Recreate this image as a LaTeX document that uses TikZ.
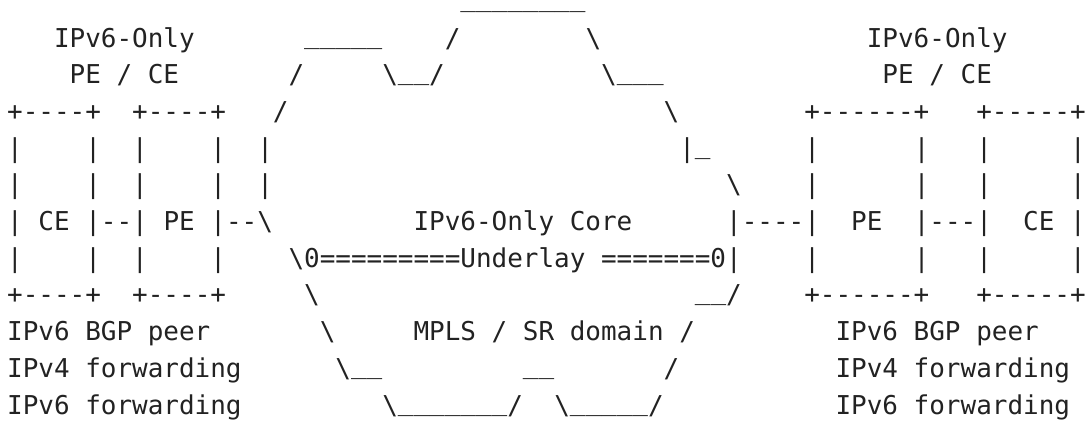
\documentclass[tikz,border=0pt]{standalone}
\usepackage{fontspec}
\setmonofont{DejaVu Sans Mono}
\definecolor{ink}{RGB}{34,34,34}
\newcommand\usc{\raisebox{4pt}{\_}}
\newcommand\bsl{\textbackslash}
\newcommand\seg[4]{\node[asc] (#1) at ({7.2+15.63*#2},{10.3+36.7*#3}) {#4};}
\begin{document}
\begin{tikzpicture}[x=1pt,y=-1pt,
  asc/.style={anchor=base west,inner sep=0pt,outer sep=0pt,text=ink,
    font=\ttfamily\fontsize{25.96pt}{30pt}\selectfont}]
\useasboundingbox (0,0) rectangle (1086,421);
% row 0
\node[asc,text height=0pt] (top) at ({7.2+15.63*29},10.3) {\usc\usc\usc\usc\usc\usc\usc\usc};
% row 1
\seg{ltitA}{3}{1}{IPv6-Only}
\seg{ca1}{19}{1}{\usc\usc\usc\usc\usc}
\seg{cb1}{28}{1}{/}
\seg{cc1}{37}{1}{\bsl}
\seg{rtitA}{55}{1}{IPv6-Only}
% row 2
\seg{ltitB}{4}{2}{PE / CE}
\seg{ca2}{18}{2}{/}
\seg{cb2}{24}{2}{\bsl\usc\usc/}
\seg{cc2}{38}{2}{\bsl\usc\usc\usc}
\seg{rtitB}{56}{2}{PE / CE}
% row 3
\seg{lceT}{0}{3}{+----+}
\seg{lpeT}{8}{3}{+----+}
\seg{ca3}{17}{3}{/}
\seg{cb3}{42}{3}{\bsl}
\seg{rpeT}{51}{3}{+------+}
\seg{rceT}{62}{3}{+-----+}
% row 4
\seg{a4}{0}{4}{|}
\seg{b4}{5}{4}{|}
\seg{c4}{8}{4}{|}
\seg{d4}{13}{4}{|}
\seg{e4}{16}{4}{|}
\seg{f4}{43}{4}{|\usc}
\seg{g4}{51}{4}{|}
\seg{h4}{58}{4}{|}
\seg{i4}{62}{4}{|}
\seg{j4}{68}{4}{|}
% row 5
\seg{a5}{0}{5}{|}
\seg{b5}{5}{5}{|}
\seg{c5}{8}{5}{|}
\seg{d5}{13}{5}{|}
\seg{e5}{16}{5}{|}
\seg{f5}{46}{5}{\bsl}
\seg{g5}{51}{5}{|}
\seg{h5}{58}{5}{|}
\seg{i5}{62}{5}{|}
\seg{j5}{68}{5}{|}
% row 6
\seg{a6}{0}{6}{|}
\seg{lce}{2}{6}{CE}
\seg{b6}{5}{6}{|--|}
\seg{lpe}{10}{6}{PE}
\seg{d6}{13}{6}{|--\bsl}
\seg{core}{26}{6}{IPv6-Only Core}
\seg{g6}{46}{6}{|----|}
\seg{rpe}{54}{6}{PE}
\seg{h6}{58}{6}{|---|}
\seg{rce}{65}{6}{CE}
\seg{j6}{68}{6}{|}
% row 7
\seg{a7}{0}{7}{|}
\seg{b7}{5}{7}{|}
\seg{c7}{8}{7}{|}
\seg{d7}{13}{7}{|}
\seg{under}{18}{7}{\bsl 0=========Underlay =======0|}
\seg{g7}{51}{7}{|}
\seg{h7}{58}{7}{|}
\seg{i7}{62}{7}{|}
\seg{j7}{68}{7}{|}
% row 8
\seg{lceB}{0}{8}{+----+}
\seg{lpeB}{8}{8}{+----+}
\seg{ca8}{19}{8}{\bsl}
\seg{cb8}{44}{8}{\usc\usc/}
\seg{rpeB}{51}{8}{+------+}
\seg{rceB}{62}{8}{+-----+}
% row 9
\seg{lbgp}{0}{9}{IPv6 BGP peer}
\seg{ca9}{20}{9}{\bsl}
\seg{mpls}{26}{9}{MPLS / SR domain /}
\seg{rbgp}{53}{9}{IPv6 BGP peer}
% row 10
\seg{lv4}{0}{10}{IPv4 forwarding}
\seg{ca10}{21}{10}{\bsl\usc\usc}
\seg{cb10}{33}{10}{\usc\usc}
\seg{cc10}{42}{10}{/}
\seg{rv4}{53}{10}{IPv4 forwarding}
% row 11
\seg{lv6}{0}{11}{IPv6 forwarding}
\seg{ca11}{24}{11}{\bsl\usc\usc\usc\usc\usc\usc\usc/}
\seg{cb11}{35}{11}{\bsl\usc\usc\usc\usc\usc/}
\seg{rv6}{53}{11}{IPv6 forwarding}
\end{tikzpicture}
\end{document}
